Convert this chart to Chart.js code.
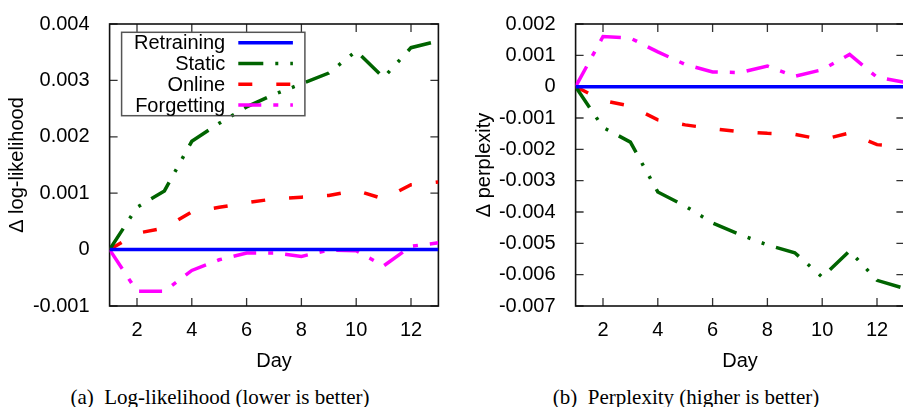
<!doctype html>
<html lang="en">
<head>
    <meta charset="UTF-8">
    <title>Log-likelihood and perplexity by day</title>
    <script src="https://cdn.jsdelivr.net/npm/chart.js"></script>
    <style>
        body { margin: 0; width: 903px; height: 407px; overflow: hidden; background: #fff; position: relative; }
        canvas { position: absolute; top: 0; }
        .cap { position: absolute; top: 387px; font: 21px 'Liberation Serif', 'Times New Roman', serif;
               line-height: 21px; white-space: nowrap; transform: translateX(-50%); color: #000; }
    </style>
</head>
<body>
<canvas id="ll" width="445" height="380" style="left:0"></canvas>
<canvas id="ppl" width="460" height="380" style="left:450px"></canvas>
<div class="cap" style="left:220px">(a)&nbsp; Log-likelihood (lower is better)</div>
<div class="cap" style="left:686px">(b)&nbsp; Perplexity (higher is better)</div>
<script>
  const days = [1, 2, 3, 4, 5, 6, 7, 8, 9, 10, 11, 12, 13];
  const dayTicks = [2, 4, 6, 8, 10, 12];
  const seriesNames = ['Retraining', 'Static', 'Online', 'Forgetting'];

  // (a) delta log-likelihood
  const llTicks = [-0.001, 0, 0.001, 0.002, 0.003, 0.004];
  const llRetraining = [0, 0, 0, 0, 0, 0, 0, 0, 0, 0, 0, 0, 0];
  const llStatic = [0, 0.00075, 0.00104, 0.00192, 0.00224, 0.00253, 0.00275, 0.00294, 0.00313, 0.00352, 0.00305, 0.00358, 0.0037];
  const llOnline = [0, 0.00029, 0.00038, 0.00067, 0.00075, 0.00083, 0.0009, 0.00093, 0.00096, 0.00105, 0.0009, 0.00115, 0.0012];
  const llForgetting = [0, -0.00074, -0.00074, -0.00037, -0.00018, -0.00006, -0.00006, -0.00012, -0.00001, -0.00002, -0.00029, 0.00006, 0.00012];

  // (b) delta perplexity
  const pplTicks = [-0.007, -0.006, -0.005, -0.004, -0.003, -0.002, -0.001, 0, 0.001, 0.002];
  const pplRetraining = [0, 0, 0, 0, 0, 0, 0, 0, 0, 0, 0, 0, 0];
  const pplStatic = [0, -0.0013, -0.00177, -0.00336, -0.00381, -0.00435, -0.00472, -0.00505, -0.0053, -0.00608, -0.00524, -0.00618, -0.00644];
  const pplOnline = [0, -0.00044, -0.00062, -0.00106, -0.00122, -0.00134, -0.00144, -0.00149, -0.00152, -0.00169, -0.00148, -0.00185, -0.0019];
  const pplForgetting = [0, 0.0016, 0.00155, 0.00111, 0.00071, 0.00047, 0.00045, 0.00066, 0.00033, 0.00054, 0.00103, 0.0003, 0.00014];

  const colors = ['#0000ff', '#006400', '#ff0000', '#ff00ff'];
  const dashes = [[], [25, 12, 3, 12, 3, 12], [14, 24], [23, 12, 5, 12]];

  Chart.defaults.font.family = "'Liberation Sans', Arial, sans-serif";
  Chart.defaults.font.size = 20;
  Chart.defaults.color = '#000';

  function datasets(values) {
    return values.map((v, i) => ({
      label: seriesNames[i],
      data: days.map((d, j) => ({x: d, y: v[j]})),
      borderColor: colors[i],
      borderDash: dashes[i],
      borderWidth: 3.5,
      pointRadius: 0,
      tension: 0,
      fill: false
    }));
  }

  // gnuplot style box with inward ticks on all sides
  const frame = {
    id: 'frame',
    beforeDatasetsDraw(chart) {
      const {ctx, chartArea: a, scales: {x, y}} = chart;
      ctx.save();
      ctx.strokeStyle = '#333';
      ctx.lineWidth = 1.3;
      ctx.beginPath();
      x.ticks.forEach(t => {
        const px = x.getPixelForValue(t.value);
        ctx.moveTo(px, a.bottom); ctx.lineTo(px, a.bottom - 8);
        ctx.moveTo(px, a.top); ctx.lineTo(px, a.top + 8);
      });
      y.ticks.forEach(t => {
        const py = y.getPixelForValue(t.value);
        ctx.moveTo(a.left, py); ctx.lineTo(a.left + 8, py);
        ctx.moveTo(a.right, py); ctx.lineTo(a.right - 8, py);
      });
      ctx.stroke();
      ctx.strokeStyle = '#111';
      ctx.lineWidth = 1.6;
      ctx.strokeRect(a.left, a.top, a.width, a.height);
      ctx.restore();
    }
  };

  // key: text right aligned, sample on the right
  const key = {
    id: 'key',
    afterDatasetsDraw(chart, args, opts) {
      if (!opts.show) return;
      const {ctx, chartArea: a} = chart;
      ctx.save();
      ctx.strokeStyle = '#555';
      ctx.lineWidth = 1.5;
      ctx.strokeRect(a.left + 12, a.top + 8.3, 183.3, 83.4);
      ctx.font = "20px 'Liberation Sans', Arial, sans-serif";
      ctx.textAlign = 'right';
      ctx.textBaseline = 'middle';
      ctx.fillStyle = '#000';
      chart.data.datasets.forEach((ds, i) => {
        const yy = a.top + 18.7 + i * 20.8;
        ctx.fillText(ds.label, a.left + 115.6, yy + 1);
        ctx.beginPath();
        ctx.setLineDash(ds.borderDash);
        ctx.lineCap = 'butt';
        ctx.strokeStyle = ds.borderColor;
        ctx.lineWidth = 3.5;
        ctx.moveTo(a.left + 128.7, yy);
        ctx.lineTo(a.left + 183.3, yy);
        ctx.stroke();
        ctx.setLineDash([]);
      });
      ctx.restore();
    }
  };

  function makeChart(id, values, yTicks, yTitle, yAxisWidth, yTitlePad, rightPad, showKey) {
    return new Chart(document.getElementById(id), {
      type: 'line',
      data: {datasets: datasets(values)},
      options: {
        responsive: false,
        animation: false,
        layout: {padding: {top: 19, right: rightPad, bottom: 0, left: 0}},
        plugins: {legend: {display: false}, tooltip: {enabled: false}, key: {show: showKey}},
        scales: {
          x: {
            type: 'linear', min: 1, max: 13,
            grid: {display: false}, border: {display: false},
            afterBuildTicks: s => { s.ticks = dayTicks.map(v => ({value: v})); },
            afterFit: s => { s.height = 74; },
            ticks: {padding: 4, maxRotation: 0, callback: v => String(v)},
            title: {display: true, text: 'Day', padding: {top: 0, bottom: 6.5}}
          },
          y: {
            type: 'linear', min: yTicks[0], max: yTicks[yTicks.length - 1],
            grid: {display: false}, border: {display: false},
            afterBuildTicks: s => { s.ticks = yTicks.map(v => ({value: v})); },
            afterFit: s => { s.width = yAxisWidth; },
            ticks: {padding: 12, callback: v => (Math.abs(v) < 1e-12 ? '0' : v.toFixed(3))},
            title: {display: true, text: yTitle, padding: {top: yTitlePad, bottom: 0}}
          }
        }
      },
      plugins: [frame, key]
    });
  }

  makeChart('ll', [llRetraining, llStatic, llOnline, llForgetting], llTicks,
    'Δ log-likelihood', 109.6, 5.5, 6.6, true);
  makeChart('ppl', [pplRetraining, pplStatic, pplOnline, pplForgetting], pplTicks,
    'Δ perplexity', 125.6, 22, 5.6, false);
</script>
</body>
</html>
